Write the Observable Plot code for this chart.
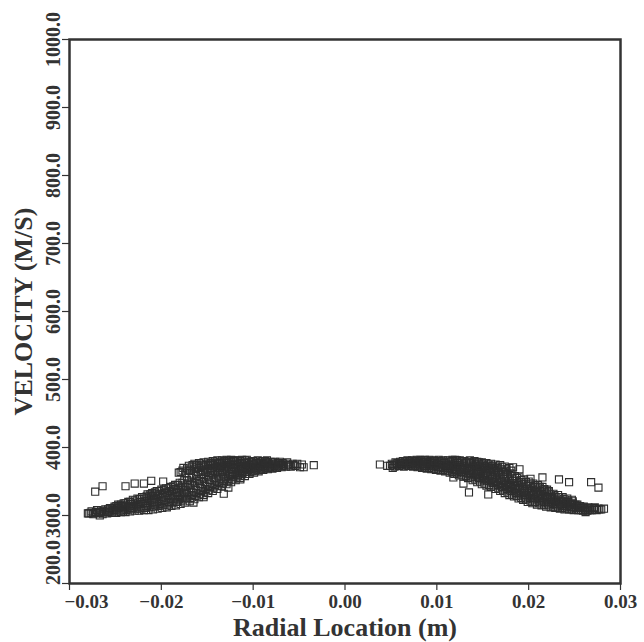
<!DOCTYPE html>
<html><head><meta charset="utf-8">
<script src="https://cdn.jsdelivr.net/npm/d3@7"></script>
<script src="https://cdn.jsdelivr.net/npm/@observablehq/plot@0.6"></script>
<style>body{margin:0;background:#fff} svg{display:block}</style>
</head><body><div id="chart"></div>
<script>
const xTicks = [-0.03, -0.02, -0.01, 0, 0.01, 0.02, 0.03];
const yTicks = [200, 300, 400, 500, 600, 700, 800, 900, 1000];
const xLabel = "Radial Location (m)";
const yLabel = "VELOCITY (M/S)";

const leftBranch = [
[-0.0279,303],[-0.0276,306],
[-0.0274,302],[-0.0271,305],
[-0.0268,304],[-0.0266,307],
[-0.0264,302],[-0.0262,305],[-0.0261,309],
[-0.0259,303],[-0.0257,307],[-0.0256,311],
[-0.0254,304],[-0.0252,308],[-0.0251,313],
[-0.0249,304],[-0.0248,309],[-0.0246,312],[-0.0247,316],
[-0.0244,305],[-0.0242,309],[-0.0243,314],[-0.0241,318],
[-0.0239,305],[-0.0237,310],[-0.0238,315],[-0.0236,320],
[-0.0234,306],[-0.0232,311],[-0.0233,317],[-0.0231,323],
[-0.0229,307],[-0.0227,312],[-0.0228,318],[-0.0226,325],
[-0.0224,307],[-0.0222,313],[-0.0223,320],[-0.0221,327],
[-0.0219,308],[-0.0217,314],[-0.0218,321],[-0.0216,328],[-0.0215,331],
[-0.0214,308],[-0.0212,315],[-0.0213,322],[-0.0211,329],[-0.0210,333],
[-0.0209,309],[-0.0207,316],[-0.0208,324],[-0.0206,331],[-0.0205,336],
[-0.0204,310],[-0.0202,317],[-0.0203,325],[-0.0201,332],[-0.0200,338],
[-0.0199,311],[-0.0197,319],[-0.0198,327],[-0.0196,334],[-0.0195,340],
[-0.0194,312],[-0.0192,320],[-0.0193,329],[-0.0191,336],[-0.0190,342],
[-0.0189,314],[-0.0187,322],[-0.0188,331],[-0.0186,339],[-0.0185,345],
[-0.0184,315],[-0.0182,324],[-0.0183,333],[-0.0181,341],[-0.0180,348],
[-0.0179,317],[-0.0177,326],[-0.0178,335],[-0.0176,344],[-0.0175,352],[-0.0177,366],
[-0.0174,319],[-0.0172,328],[-0.0173,337],[-0.0171,347],[-0.0170,356],[-0.0172,369],
[-0.0169,321],[-0.0167,330],[-0.0168,340],[-0.0166,350],[-0.0165,360],[-0.0167,371],
[-0.0164,324],[-0.0162,333],[-0.0163,343],[-0.0161,353],[-0.0160,364],[-0.0162,372],[-0.0164,376],
[-0.0159,327],[-0.0157,336],[-0.0158,346],[-0.0156,356],[-0.0155,366],[-0.0157,373],[-0.0159,377],
[-0.0154,330],[-0.0152,339],[-0.0153,349],[-0.0151,359],[-0.0150,368],[-0.0152,374],[-0.0154,378],
[-0.0149,333],[-0.0147,342],[-0.0148,352],[-0.0146,362],[-0.0145,370],[-0.0147,375],[-0.0149,379],
[-0.0144,336],[-0.0142,345],[-0.0143,355],[-0.0141,364],[-0.0140,372],[-0.0142,376],[-0.0144,380],
[-0.0139,339],[-0.0137,348],[-0.0138,357],[-0.0136,366],[-0.0135,373],[-0.0137,377],[-0.0139,381],
[-0.0134,343],[-0.0132,351],[-0.0133,360],[-0.0131,368],[-0.0130,374],[-0.0132,378],[-0.0134,381],
[-0.0129,346],[-0.0127,354],[-0.0128,362],[-0.0126,369],[-0.0125,375],[-0.0127,379],[-0.0129,382],
[-0.0124,349],[-0.0122,357],[-0.0123,364],[-0.0121,371],[-0.0120,376],[-0.0122,380],[-0.0124,382],
[-0.0119,352],[-0.0117,359],[-0.0118,366],[-0.0116,372],[-0.0115,377],[-0.0117,381],
[-0.0114,355],[-0.0112,362],[-0.0113,368],[-0.0111,373],[-0.0110,378],[-0.0112,382],
[-0.0109,358],[-0.0107,364],[-0.0108,370],[-0.0106,375],[-0.0105,379],[-0.0107,382],
[-0.0104,361],[-0.0102,366],[-0.0103,371],[-0.0101,376],[-0.0100,380],
[-0.0099,363],[-0.0097,368],[-0.0098,372],[-0.0096,377],[-0.0095,381],
[-0.0094,365],[-0.0092,369],[-0.0093,373],[-0.0091,377],[-0.0090,380],
[-0.0089,367],[-0.0087,371],[-0.0088,375],[-0.0086,378],[-0.0085,381],
[-0.0084,368],[-0.0082,372],[-0.0083,376],[-0.0081,379],
[-0.0079,369],[-0.0077,373],[-0.0078,376],[-0.0076,379],
[-0.0074,370],[-0.0072,374],[-0.0073,377],[-0.0071,379],
[-0.0069,371],[-0.0067,374],[-0.0068,377],
[-0.0064,372],[-0.0062,375],[-0.0063,378],
[-0.0059,372],[-0.0057,376],
[-0.0054,373],[-0.0052,376],
[-0.0049,371],[-0.0047,375]
];
const leftFill = [
[-0.0277,304],[-0.0272,304],[-0.0267,305],[-0.0263,307],[-0.0258,305],[-0.0258,309],
[-0.0253,306],[-0.0253,310],[-0.0248,306],[-0.0247,311],[-0.0249,314],
[-0.0243,307],[-0.0242,312],[-0.0244,316],
[-0.0238,308],[-0.0237,313],[-0.0239,318],
[-0.0233,309],[-0.0232,314],[-0.0234,320],
[-0.0228,310],[-0.0227,315],[-0.0229,322],
[-0.0223,310],[-0.0222,317],[-0.0224,324],
[-0.0218,311],[-0.0217,318],[-0.0219,325],
[-0.0213,312],[-0.0212,319],[-0.0214,326],[-0.0212,331],
[-0.0208,313],[-0.0207,320],[-0.0209,328],[-0.0207,334],
[-0.0203,314],[-0.0202,321],[-0.0204,329],[-0.0202,336],
[-0.0198,315],[-0.0197,323],[-0.0199,331],[-0.0197,338],
[-0.0193,316],[-0.0192,325],[-0.0194,333],[-0.0192,340],
[-0.0188,318],[-0.0187,327],[-0.0189,335],[-0.0187,343],
[-0.0183,320],[-0.0182,329],[-0.0184,337],[-0.0182,345],
[-0.0178,322],[-0.0177,331],[-0.0179,340],[-0.0177,348],[-0.0179,364],
[-0.0173,324],[-0.0172,333],[-0.0174,342],[-0.0172,352],[-0.0174,362],[-0.0170,366],
[-0.0168,326],[-0.0167,335],[-0.0169,345],[-0.0167,355],[-0.0169,366],[-0.0166,374],
[-0.0163,329],[-0.0162,338],[-0.0164,348],[-0.0162,358],[-0.0164,368],[-0.0161,374],
[-0.0158,332],[-0.0157,341],[-0.0159,351],[-0.0157,361],[-0.0159,370],[-0.0156,375],
[-0.0153,335],[-0.0152,344],[-0.0154,354],[-0.0152,364],[-0.0154,371],[-0.0151,376],
[-0.0148,338],[-0.0147,347],[-0.0149,357],[-0.0147,366],[-0.0149,373],[-0.0146,377],
[-0.0143,341],[-0.0142,350],[-0.0144,360],[-0.0142,368],[-0.0144,374],[-0.0141,378],
[-0.0138,344],[-0.0137,353],[-0.0139,362],[-0.0137,370],[-0.0139,375],[-0.0136,379],
[-0.0133,347],[-0.0132,356],[-0.0134,364],[-0.0132,371],[-0.0134,376],[-0.0131,380],
[-0.0128,350],[-0.0127,358],[-0.0129,366],[-0.0127,372],[-0.0129,377],[-0.0126,381],
[-0.0123,353],[-0.0122,361],[-0.0124,368],[-0.0122,374],[-0.0124,378],[-0.0121,381],
[-0.0118,356],[-0.0117,363],[-0.0119,369],[-0.0117,375],[-0.0119,379],
[-0.0113,359],[-0.0112,365],[-0.0114,371],[-0.0112,376],[-0.0114,380],
[-0.0108,361],[-0.0107,367],[-0.0109,373],[-0.0107,377],[-0.0109,381],
[-0.0103,364],[-0.0102,369],[-0.0104,374],[-0.0102,378],
[-0.0098,366],[-0.0097,370],[-0.0099,375],[-0.0097,379],
[-0.0093,367],[-0.0092,371],[-0.0094,375],[-0.0092,379],
[-0.0088,369],[-0.0087,373],[-0.0089,377],[-0.0087,380],
[-0.0083,370],[-0.0082,374],[-0.0084,378],
[-0.0078,371],[-0.0077,375],[-0.0079,378],
[-0.0073,372],[-0.0072,376],
[-0.0068,373],[-0.0067,376],
[-0.0061,374],[-0.0056,374]
];
const leftOutliers = [
[-0.0280,303],[-0.0274,303],[-0.0267,300],[-0.0270,308],[-0.0272,335],[-0.0264,343],
[-0.0239,343],[-0.0229,347],[-0.0219,347],[-0.0211,351],[-0.0198,350],[-0.0181,363],
[-0.0176,370],[-0.0170,373],[-0.0165,319],[-0.0154,327],[-0.0132,332],[-0.0127,341],
[-0.0119,360],[-0.0114,353],[-0.0045,371],[-0.0034,374]
];
const rightBranch = [
[0.0049,373],[0.0051,376],
[0.0054,372],[0.0056,375],[0.0055,378],
[0.0059,373],[0.0061,376],[0.0060,379],
[0.0064,372],[0.0066,375],[0.0065,378],[0.0063,380],
[0.0069,373],[0.0071,376],[0.0070,379],[0.0068,381],
[0.0074,372],[0.0076,375],[0.0075,378],[0.0073,381],
[0.0079,371],[0.0081,374],[0.0080,377],[0.0078,380],[0.0082,382],
[0.0084,370],[0.0086,373],[0.0085,376],[0.0083,379],[0.0087,382],
[0.0089,369],[0.0091,373],[0.0090,376],[0.0088,379],[0.0092,382],
[0.0094,368],[0.0096,372],[0.0095,375],[0.0093,378],[0.0097,381],
[0.0099,367],[0.0101,371],[0.0100,375],[0.0098,378],[0.0102,382],
[0.0104,366],[0.0106,370],[0.0105,374],[0.0103,378],[0.0107,381],
[0.0109,365],[0.0111,369],[0.0110,373],[0.0108,377],[0.0112,381],
[0.0114,363],[0.0116,368],[0.0115,372],[0.0113,376],[0.0117,380],
[0.0119,361],[0.0121,366],[0.0120,371],[0.0118,375],[0.0122,379],[0.0120,382],
[0.0124,359],[0.0126,364],[0.0125,369],[0.0123,374],[0.0127,378],[0.0125,381],
[0.0129,357],[0.0131,362],[0.0130,367],[0.0128,372],[0.0132,377],[0.0130,380],
[0.0134,355],[0.0136,360],[0.0135,365],[0.0133,370],[0.0137,375],[0.0135,379],
[0.0139,352],[0.0141,357],[0.0140,363],[0.0138,368],[0.0142,373],[0.0140,378],
[0.0144,349],[0.0146,355],[0.0145,361],[0.0143,366],[0.0147,371],[0.0145,376],[0.0144,379],
[0.0149,346],[0.0151,352],[0.0150,358],[0.0148,364],[0.0152,370],[0.0150,375],[0.0149,378],
[0.0154,344],[0.0156,350],[0.0155,356],[0.0153,362],[0.0157,368],[0.0155,373],[0.0154,377],
[0.0159,342],[0.0161,348],[0.0160,354],[0.0158,360],[0.0162,366],[0.0160,372],[0.0159,376],
[0.0164,339],[0.0166,345],[0.0165,351],[0.0163,357],[0.0167,363],[0.0165,370],[0.0164,375],
[0.0169,336],[0.0171,342],[0.0170,348],[0.0168,354],[0.0172,360],[0.0170,368],[0.0169,374],
[0.0174,333],[0.0176,339],[0.0175,345],[0.0173,351],[0.0177,357],[0.0175,365],[0.0174,372],
[0.0179,330],[0.0181,336],[0.0180,342],[0.0178,348],[0.0182,354],[0.0180,362],[0.0179,370],
[0.0184,328],[0.0186,333],[0.0185,339],[0.0183,345],[0.0187,351],[0.0185,358],
[0.0189,325],[0.0191,331],[0.0190,337],[0.0188,343],[0.0192,349],[0.0190,356],
[0.0194,323],[0.0196,328],[0.0195,334],[0.0193,340],[0.0197,346],[0.0195,353],
[0.0199,320],[0.0201,326],[0.0200,332],[0.0198,338],[0.0202,344],[0.0200,350],
[0.0204,318],[0.0206,324],[0.0205,330],[0.0203,336],[0.0207,342],[0.0205,347],
[0.0209,316],[0.0211,322],[0.0210,328],[0.0208,334],[0.0212,340],[0.0210,345],
[0.0214,315],[0.0216,320],[0.0215,326],[0.0213,332],[0.0217,337],[0.0215,342],
[0.0219,313],[0.0221,318],[0.0220,324],[0.0218,329],[0.0222,334],[0.0220,338],
[0.0224,312],[0.0226,317],[0.0225,322],[0.0223,327],[0.0227,332],
[0.0229,311],[0.0231,315],[0.0230,320],[0.0228,325],[0.0232,330],
[0.0234,310],[0.0236,314],[0.0235,318],[0.0233,322],[0.0237,327],
[0.0239,309],[0.0241,313],[0.0240,317],[0.0238,321],[0.0242,325],
[0.0244,309],[0.0246,312],[0.0245,316],[0.0243,320],[0.0247,323],
[0.0249,308],[0.0251,311],[0.0250,315],[0.0248,318],
[0.0254,308],[0.0256,311],[0.0255,314],[0.0253,316],
[0.0259,307],[0.0261,310],[0.0260,313],
[0.0264,307],[0.0266,310],[0.0265,312],
[0.0269,308],[0.0271,311],
[0.0274,308],[0.0276,310]
];
const rightFill = [
[0.0052,374],[0.0057,374],[0.0062,374],[0.0062,377],[0.0067,374],[0.0067,377],[0.0066,380],
[0.0072,374],[0.0072,377],[0.0071,380],
[0.0077,373],[0.0077,376],[0.0076,379],[0.0078,382],
[0.0082,372],[0.0082,375],[0.0081,378],[0.0083,381],
[0.0087,371],[0.0087,375],[0.0086,378],[0.0088,381],
[0.0092,370],[0.0092,374],[0.0091,377],[0.0093,380],
[0.0097,369],[0.0097,373],[0.0096,377],[0.0098,380],
[0.0102,368],[0.0102,372],[0.0101,376],[0.0103,380],
[0.0107,367],[0.0107,371],[0.0106,375],[0.0108,379],
[0.0112,366],[0.0112,370],[0.0111,374],[0.0113,379],
[0.0117,364],[0.0117,369],[0.0116,374],[0.0118,378],[0.0117,382],
[0.0122,362],[0.0122,367],[0.0121,372],[0.0123,377],[0.0122,381],
[0.0127,360],[0.0127,365],[0.0126,370],[0.0128,375],[0.0127,380],
[0.0132,358],[0.0132,363],[0.0131,368],[0.0133,373],[0.0132,378],
[0.0137,356],[0.0137,361],[0.0136,366],[0.0138,371],[0.0137,377],[0.0136,381],
[0.0142,353],[0.0142,359],[0.0141,364],[0.0143,369],[0.0142,375],[0.0141,380],
[0.0147,350],[0.0147,356],[0.0146,362],[0.0148,367],[0.0147,373],[0.0146,378],
[0.0152,347],[0.0152,354],[0.0151,360],[0.0153,366],[0.0152,372],[0.0151,377],
[0.0157,345],[0.0157,351],[0.0156,358],[0.0158,364],[0.0157,370],[0.0156,375],
[0.0162,343],[0.0162,349],[0.0161,356],[0.0163,362],[0.0162,368],[0.0161,373],
[0.0167,340],[0.0167,347],[0.0166,353],[0.0168,360],[0.0167,366],[0.0166,372],
[0.0172,337],[0.0172,344],[0.0171,350],[0.0173,357],[0.0172,364],[0.0171,371],
[0.0177,334],[0.0177,341],[0.0176,347],[0.0178,354],[0.0177,361],[0.0176,368],
[0.0182,331],[0.0182,338],[0.0181,344],[0.0183,351],[0.0182,358],[0.0181,366],
[0.0187,329],[0.0187,335],[0.0186,341],[0.0188,348],[0.0187,355],
[0.0192,326],[0.0192,333],[0.0191,339],[0.0193,346],[0.0192,352],
[0.0197,324],[0.0197,330],[0.0196,336],[0.0198,343],[0.0197,349],
[0.0202,322],[0.0202,328],[0.0201,334],[0.0203,340],[0.0202,347],
[0.0207,320],[0.0207,326],[0.0206,332],[0.0208,338],[0.0207,344],
[0.0212,318],[0.0212,324],[0.0211,330],[0.0213,336],[0.0212,342],
[0.0217,316],[0.0217,322],[0.0216,328],[0.0218,334],[0.0217,339],
[0.0222,315],[0.0222,320],[0.0221,326],[0.0223,331],[0.0222,336],
[0.0227,313],[0.0227,319],[0.0226,324],[0.0228,329],
[0.0232,312],[0.0232,317],[0.0231,322],[0.0233,327],
[0.0237,311],[0.0237,315],[0.0236,320],[0.0238,324],
[0.0242,310],[0.0242,314],[0.0241,318],[0.0243,322],
[0.0247,309],[0.0247,313],[0.0246,317],[0.0248,321],
[0.0252,309],[0.0252,312],[0.0251,316],
[0.0257,308],[0.0257,312],[0.0256,314],
[0.0262,308],[0.0262,311],
[0.0267,308],[0.0267,311],
[0.0272,309],[0.0277,309]
];
const rightOutliers = [
[0.0038,375],[0.0046,373],[0.0052,370],[0.0057,377],[0.0118,356],[0.0129,347],
[0.0135,334],[0.0156,331],[0.0183,371],[0.0190,368],[0.0202,354],[0.0215,356],
[0.0233,353],[0.0244,349],[0.0268,349],[0.0276,341],[0.0279,309],[0.0282,310],
[0.0272,312],[0.0262,305]
];

const points = [...leftBranch, ...leftFill, ...leftOutliers, ...rightBranch, ...rightFill, ...rightOutliers]
  .map(([x, y]) => ({x, y}));

const ink = "#333";
const fx = d3.format(".2f");
const fy = d3.format(".1f");
const xMin = xTicks[0];
const yMin = yTicks[0];
const axisFont = {fontSize: 19, fill: ink};
const chart = Plot.plot({
  width: 644,
  height: 642,
  marginLeft: 69,
  marginRight: 24,
  marginTop: 39,
  marginBottom: 59,
  style: {fontFamily: "'Liberation Serif', 'Times New Roman', serif", fontWeight: "bold", background: "#fff", color: ink},
  x: {domain: [-0.03, 0.03]},
  y: {domain: [200, 1000]},
  marks: [
    // tick lines + labels (corner labels nudged inward, as in the original)
    Plot.axisX({ticks: xTicks, tickSize: 7, tickPadding: 4, tickFormat: d => d === xMin ? "" : fx(d), fontSize: 19, label: null, stroke: ink, strokeWidth: 1.2}),
    Plot.axisX({ticks: [xMin], tickSize: 0, tickPadding: 11, tickFormat: fx, fontSize: 19, label: null, dx: 17}),
    Plot.axisY({ticks: yTicks, tickSize: 7, tickPadding: 3, tickRotate: -90, tickFormat: d => d === yMin ? "" : fy(d), fontSize: 20, label: null, stroke: ink, strokeWidth: 1.2}),
    Plot.axisY({ticks: [yMin], tickSize: 0, tickPadding: 10, tickRotate: -90, tickFormat: fy, fontSize: 20, label: null, dy: -21}),
    Plot.dot(points, {x: "x", y: "y", symbol: "square", r: 4, stroke: "#2e2e2e", fill: "none", strokeWidth: 1.1}),
    Plot.frame({stroke: ink, strokeWidth: 2.5}),
    Plot.text([xLabel], {text: d => d, frameAnchor: "bottom", textAnchor: "middle", lineAnchor: "middle", dy: 44, fontSize: 26, fill: ink}),
    Plot.text([yLabel], {text: d => d, frameAnchor: "left", textAnchor: "middle", lineAnchor: "middle", dx: -46, rotate: -90, fontSize: 26, fill: ink})
  ]
});
document.getElementById("chart").append(chart);
</script>
</body></html>
